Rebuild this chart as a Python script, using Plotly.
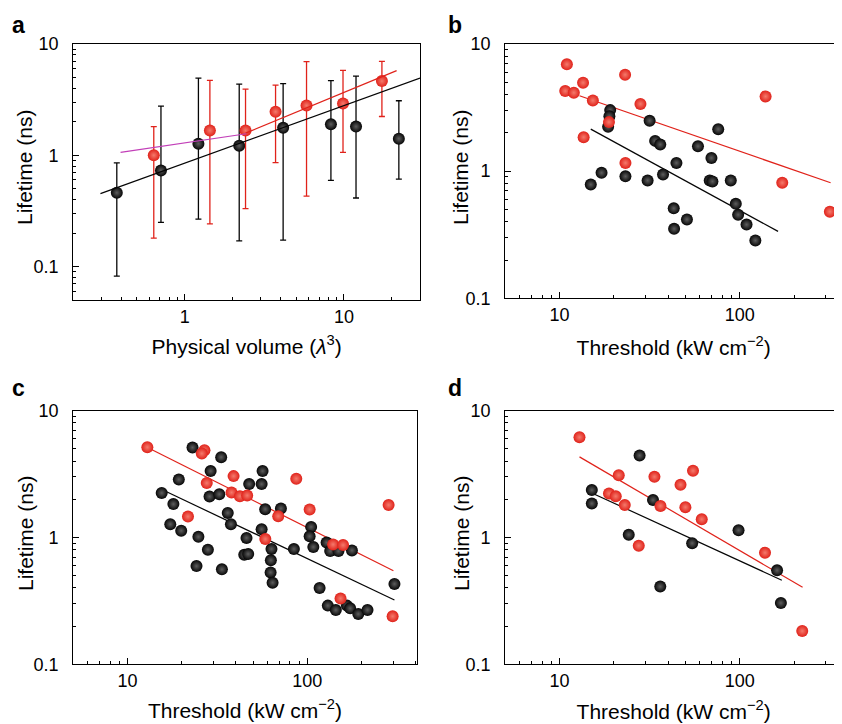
import math
import plotly.graph_objects as go

# ---------------- data ----------------
# panel a
a_black_x = [0.375, 0.71, 1.22, 2.2, 4.15, 8.28, 11.9, 22.1]
a_black_y = [0.46, 0.73, 1.27, 1.22, 1.77, 1.9, 1.81, 1.41]
a_black_hi = [0.855, 2.76, 4.94, 4.36, 4.4, 4.68, 5.15, 3.09]
a_black_lo = [0.082, 0.249, 0.267, 0.17, 0.173, 0.595, 0.413, 0.61]
a_red_x = [0.64, 1.44, 2.41, 3.72, 5.82, 9.86, 17.3]
a_red_y = [1.0, 1.67, 1.67, 2.46, 2.8, 2.92, 4.64]
a_red_hi = [1.81, 4.71, 3.93, 4.27, 6.94, 5.8, 6.98]
a_red_lo = [0.18, 0.242, 0.331, 0.86, 0.43, 1.06, 2.23]
a_fit_black_x = [0.296, 30]
a_fit_black_y = [0.452, 4.94]
a_fit_red_x = [2.41, 21.4]
a_fit_red_y = [1.58, 5.76]
a_fit_mag_x = [0.396, 2.44]
a_fit_mag_y = [1.06, 1.56]

# panel b
b_red_x = [10.98, 10.75, 12.0, 13.5, 15.3, 23.1, 28.1, 18.8, 13.6, 23.2, 139, 172, 316]
b_red_y = [6.92, 4.27, 4.14, 4.96, 3.6, 5.73, 3.38, 2.43, 1.85, 1.16, 3.87, 0.81, 0.48]
b_black_x = [19.1, 18.9, 18.6, 31.6, 33.9, 36.2, 75.9, 58.6, 69.6, 44.5, 17.1, 23.2, 37.5,
             14.9, 30.8, 68.1, 70.5, 89.1, 95, 97.9, 109, 122, 43, 43.2, 50.9]
b_black_y = [3.02, 2.7, 2.23, 2.49, 1.73, 1.62, 2.14, 1.57, 1.27, 1.16, 0.97, 0.91, 0.94,
             0.785, 0.845, 0.845, 0.83, 0.845, 0.553, 0.454, 0.38, 0.285, 0.51, 0.352, 0.417]
b_fit_black_x = [14.9, 163]
b_fit_black_y = [2.14, 0.336]
b_fit_red_x = [12.9, 319]
b_fit_red_y = [3.92, 0.81]

# panel c
c_red_x = [12.9, 26.8, 25.9, 27.6, 38.9, 37.9, 42.2, 46.3, 86.8, 68.9, 103, 283, 21.7,
           58.4, 139, 158, 153, 298]
c_red_y = [5.14, 4.87, 4.58, 2.68, 3.04, 2.26, 2.11, 2.14, 2.9, 1.47, 1.66, 1.8, 1.46,
           0.97, 0.88, 0.87, 0.33, 0.239]
c_black_x = [23, 33.2, 29, 19.3, 15.5, 18, 28.6, 32.4, 47.5, 55.7, 56.4, 36.1, 37.6, 17.3,
             19.9, 58.3, 71.3, 55.7, 105, 24.8, 45.9, 103, 28, 24.2, 33.5, 44.6, 46.9, 63.2,
             62.7, 62.5, 64.1, 84.2, 108, 128, 134, 149, 177, 117, 130, 144, 166, 173, 192,
             216, 305]
c_black_y = [5.11, 4.29, 3.33, 2.86, 2.24, 1.83, 2.1, 2.19, 2.63, 2.63, 3.33, 1.56, 1.27, 1.27,
             1.13, 1.67, 1.69, 1.16, 1.21, 1.01, 0.99, 1.02, 0.8, 0.594, 0.56, 0.73, 0.74, 0.81,
             0.66, 0.53, 0.44, 0.81, 0.84, 0.91, 0.78, 0.78, 0.79, 0.40, 0.29, 0.268, 0.29,
             0.276, 0.249, 0.268, 0.43]
c_fit_black_x = [16.5, 305]
c_fit_black_y = [2.29, 0.321]
c_fit_red_x = [13.6, 301]
c_fit_red_y = [4.93, 0.546]

# panel d
d_red_x = [12.9, 21.3, 18.8, 20.5, 23, 33.6, 36.3, 46.9, 49.9, 55, 61.5, 27.5, 138, 222]
d_red_y = [6.16, 3.09, 2.22, 2.11, 1.8, 3.0, 1.77, 2.6, 1.73, 3.35, 1.39, 0.86, 0.757, 0.183]
d_black_x = [27.8, 15.1, 15.1, 33, 98.4, 24.2, 54.4, 36.2, 161, 169]
d_black_y = [4.42, 2.36, 1.85, 1.97, 1.14, 1.05, 0.9, 0.41, 0.55, 0.304]
d_fit_black_x = [15.3, 171]
d_fit_black_y = [2.22, 0.46]
d_fit_red_x = [12.9, 223]
d_fit_red_y = [4.31, 0.404]

# tick labels
a_xticks = [1, 10]
thr_xticks = [10, 100]
y_ticks = [0.1, 1, 10]
y_ticktext = ["0.1", "1", "10"]

# ---------------- style ----------------
OFF = 8                      # page body margin in the browser
W, H = 842 - OFF, 724 - OFF
FONT = "Liberation Sans, Arial, Helvetica, sans-serif"
RED = "#e0221a"
RED_LIGHT = "#f47a6c"
BLACK = "#050505"
BLACK_LIGHT = "#5e5e5e"
MAG = "#c23fb8"

fig = go.Figure()


def dom_x(a, b):
    return [(a - OFF) / W, min((b - OFF) / W, 1.0)]


def dom_y(top, bottom):
    return [(H - (bottom - OFF)) / H, (H - (top - OFF)) / H]


def minor_vals(lo, hi):
    vals = []
    e = math.floor(math.log10(lo)) - 1
    while 10 ** e <= hi * 10:
        for k in range(2, 10):
            v = k * 10 ** e
            if lo <= v <= hi:
                vals.append(v)
        e += 1
    return vals


def scatter(xr, yr, color, light, x, y, hi=None, lo=None, size=12):
    kw = {}
    if hi is not None:
        kw["error_y"] = dict(type="data", symmetric=False,
                             array=[h - v for h, v in zip(hi, y)],
                             arrayminus=[v - l for v, l in zip(y, lo)],
                             color=color, thickness=1.3, width=3)
    fig.add_trace(go.Scatter(x=x, y=y, mode="markers", xaxis=xr, yaxis=yr,
                             marker=dict(color=color, size=size, line=dict(width=0),
                                         gradient=dict(type="radial", color=light)),
                             showlegend=False, **kw))


def line(xr, yr, x, y, color, width=1.2):
    fig.add_trace(go.Scatter(x=x, y=y, mode="lines", xaxis=xr, yaxis=yr,
                             line=dict(color=color, width=width), showlegend=False))


axis_common = dict(type="log", showgrid=False, zeroline=False, showline=True,
                   linecolor="black", linewidth=1.3, ticks="inside", ticklen=6,
                   tickwidth=1, tickcolor="black",
                   tickfont=dict(family=FONT, size=18, color="black"))


def set_axes(n, xdom, ydom, xrange, yrange, xticks, xtitle, mirror_y, x_standoff):
    xlo, xhi = 10 ** xrange[0], 10 ** xrange[1]
    ylo, yhi = 10 ** yrange[0], 10 ** yrange[1]
    sfx = "" if n == 1 else str(n)
    fig.update_layout(**{
        "xaxis" + sfx: dict(axis_common, domain=xdom, range=xrange, anchor="y" + sfx,
                            tickmode="array", tickvals=xticks,
                            ticktext=[str(v) for v in xticks],
                            mirror=True, ticklabelstandoff=0,
                            minor=dict(ticks="inside", ticklen=3, tickcolor="black",
                                       tickmode="array", tickvals=minor_vals(xlo, xhi)),
                            title=dict(text=xtitle, standoff=x_standoff,
                                       font=dict(family=FONT, size=21, color="black"))),
        "yaxis" + sfx: dict(axis_common, domain=ydom, range=yrange, anchor="x" + sfx,
                            tickmode="array", tickvals=y_ticks, ticktext=y_ticktext,
                            mirror=mirror_y, ticklabelstandoff=10,
                            minor=dict(ticks="inside", ticklen=3, tickcolor="black",
                                       tickmode="array", tickvals=minor_vals(ylo, yhi))),
    })


thr_title = "Threshold (kW cm<sup>\u22122</sup>)"

# panel a
set_axes(1, dom_x(73.3, 420), dom_y(44, 300),
         [math.log10(0.2), math.log10(30)], [math.log10(0.05), 1],
         a_xticks, "Physical volume (<i>\u03bb</i><sup>3</sup>)", True, 13)
# panel b
set_axes(2, dom_x(505.3, 842), dom_y(44, 298.3),
         [math.log10(5), 2.567], [-1, 1], thr_xticks, thr_title, False, 16)
# panel c
set_axes(3, dom_x(73.3, 416.7), dom_y(410.5, 664.3),
         [math.log10(5), 2.608], [-1, 1], thr_xticks, thr_title, True, 13)
# panel d
set_axes(4, dom_x(505.3, 842), dom_y(410.5, 664.3),
         [math.log10(5), 2.567], [-1, 1], thr_xticks, thr_title, False, 14)

# traces panel a
scatter("x", "y", BLACK, BLACK_LIGHT, a_black_x, a_black_y, a_black_hi, a_black_lo, 12)
scatter("x", "y", RED, RED_LIGHT, a_red_x, a_red_y, a_red_hi, a_red_lo, 12)
line("x", "y", a_fit_black_x, a_fit_black_y, BLACK)
line("x", "y", a_fit_red_x, a_fit_red_y, RED)
line("x", "y", a_fit_mag_x, a_fit_mag_y, MAG)

# panel b
line("x2", "y2", b_fit_black_x, b_fit_black_y, BLACK)
line("x2", "y2", b_fit_red_x, b_fit_red_y, RED)
scatter("x2", "y2", BLACK, BLACK_LIGHT, b_black_x, b_black_y)
scatter("x2", "y2", RED, RED_LIGHT, b_red_x, b_red_y)

# panel c
line("x3", "y3", c_fit_black_x, c_fit_black_y, BLACK)
line("x3", "y3", c_fit_red_x, c_fit_red_y, RED)
scatter("x3", "y3", BLACK, BLACK_LIGHT, c_black_x, c_black_y)
scatter("x3", "y3", RED, RED_LIGHT, c_red_x, c_red_y)

# panel d
line("x4", "y4", d_fit_black_x, d_fit_black_y, BLACK)
line("x4", "y4", d_fit_red_x, d_fit_red_y, RED)
scatter("x4", "y4", BLACK, BLACK_LIGHT, d_black_x, d_black_y)
scatter("x4", "y4", RED, RED_LIGHT, d_red_x, d_red_y)

# panel letters
for letter, xp, yp in [("a", 18, 25), ("b", 455, 25), ("c", 18, 388), ("d", 455, 388)]:
    fig.add_annotation(text="<b>%s</b>" % letter, x=(xp - OFF) / W, y=1 - (yp - OFF) / H,
                       xref="paper", yref="paper", showarrow=False, xanchor="center",
                       yanchor="middle", font=dict(family=FONT, size=23, color="black"))

# y-axis titles
for xp, yp in [(25, 167), (461, 167), (25, 533), (461, 533)]:
    fig.add_annotation(text="Lifetime (ns)", textangle=-90, x=(xp - OFF) / W,
                       y=1 - (yp - OFF) / H, xref="paper", yref="paper", showarrow=False,
                       xanchor="center", yanchor="middle",
                       font=dict(family=FONT, size=21, color="black"))

fig.update_layout(width=W, height=H, margin=dict(l=0, r=0, t=0, b=0, autoexpand=False),
                  paper_bgcolor="white", plot_bgcolor="white",
                  font=dict(family=FONT, color="black"))

fig.write_html("out.html")
